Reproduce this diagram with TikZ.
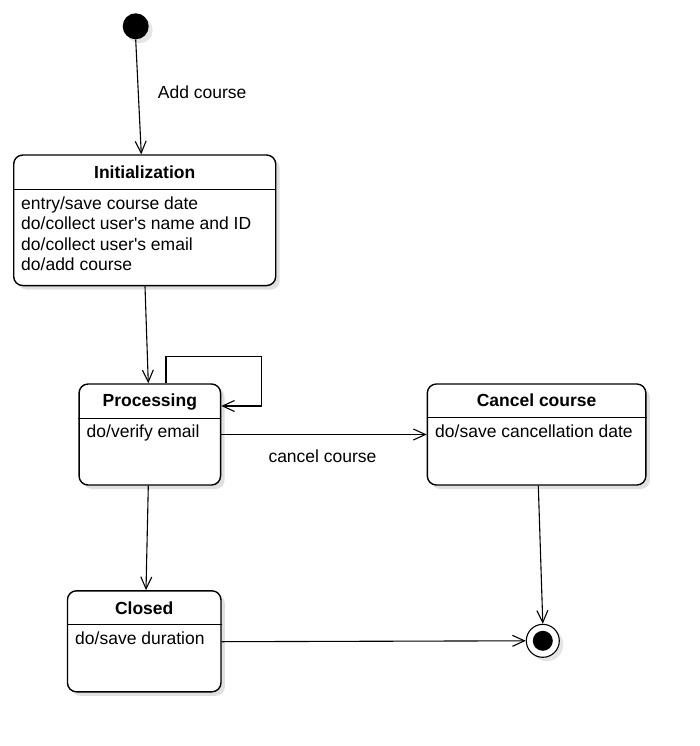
\documentclass[tikz,border=0pt]{standalone}
\usepackage{fontspec}
\setmainfont{Liberation Sans}
\usetikzlibrary{arrows.meta,shadows}
\begin{document}
\begin{tikzpicture}[x=1pt,y=-1pt,
  every node/.style={font=\fontsize{17.5}{20}\selectfont},
  statebox/.style={draw, line width=1.4pt, rounded corners=9pt, fill=white, inner sep=0pt,
    drop shadow={shadow xshift=4pt, shadow yshift=-4pt, fill=black!12, opacity=1}},
  title/.style={inner sep=0pt, anchor=base, font=\fontsize{17.5}{20}\selectfont\bfseries},
  body/.style={inner sep=0pt, anchor=base west},
  lbl/.style={inner sep=0pt},
  arr/.style={line width=1.1pt, -{Straight Barb[length=12pt,width=11pt,line width=1.1pt]}},
  divider/.style={line width=1.3pt}
]
\useasboundingbox (0,0) rectangle (700,746);

% start state
\node[circle, fill=black, minimum size=26pt, inner sep=0pt,
  drop shadow={shadow xshift=4pt, shadow yshift=-4pt, fill=black!10, opacity=1}] (start) at (135.7,26.3) {};

% Initialization
\node[statebox, minimum width=262pt, minimum height=130.5pt] (init) at (144.7,220.3) {};
\draw[divider] (init.west |- 0,189.3) -- (init.east |- 0,189.3);
\node[title] (initt) at (144.7,178.3) {Initialization};
\node[body] (init1) at (21,209.5) {entry/save course date};
\node[body] (init2) at (21,229.8) {do/collect user\textquotesingle s name and ID};
\node[body] (init3) at (21,250.1) {do/collect user\textquotesingle s email};
\node[body] (init4) at (21,270.4) {do/add course};

% Processing
\node[statebox, minimum width=141.5pt, minimum height=101pt] (proc) at (149.8,434.5) {};
\draw[divider] (proc.west |- 0,418.3) -- (proc.east |- 0,418.3);
\node[title] (proct) at (149.8,406.7) {Processing};
\node[body] (proc1) at (86.5,437.5) {do/verify email};

% Cancel course
\node[statebox, minimum width=218.5pt, minimum height=101pt] (cancel) at (536.6,434.5) {};
\draw[divider] (cancel.west |- 0,417.8) -- (cancel.east |- 0,417.8);
\node[title] (cancelt) at (536.6,406.7) {Cancel course};
\node[body] (cancel1) at (435,437.5) {do/save cancellation date};

% Closed
\node[statebox, minimum width=153.5pt, minimum height=101pt] (closed) at (144.2,641.3) {};
\draw[divider] (closed.west |- 0,624.5) -- (closed.east |- 0,624.5);
\node[title] (closedt) at (144.2,614) {Closed};
\node[body] (closed1) at (75,644.5) {do/save duration};

% final state
\node[circle, draw, line width=1.1pt, fill=white, minimum size=33pt, inner sep=0pt,
  drop shadow={shadow xshift=4pt, shadow yshift=-4pt, fill=black!10, opacity=1}] (final) at (542.8,640.8) {};
\node[circle, fill=black, minimum size=20pt, inner sep=0pt] (finaldot) at (final.center) {};

% transitions
\draw[arr] (start.south) -- ([xshift=-3.4pt]init.north);
\node[lbl, anchor=base west] (addlbl) at (157.7,99) {Add course};
\draw[arr] ([xshift=0.3pt]init.south) -- ([xshift=-1.5pt]proc.north);
\draw[arr] ([xshift=16.2pt]proc.north) |- (261.7,356.7) |- ([yshift=28.5pt]proc.east);
\draw[arr] (proc.east) -- (cancel.west);
\node[lbl, anchor=base] (cancellbl) at (322.5,462) {cancel course};
\draw[arr] ([xshift=-1.5pt]proc.south) -- ([xshift=1.8pt]closed.north);
\draw[arr] ([xshift=1.7pt]cancel.south) -- (final.north);
\draw[arr] ([yshift=-0.4pt]closed.east) -- (final.west);
\end{tikzpicture}
\end{document}
